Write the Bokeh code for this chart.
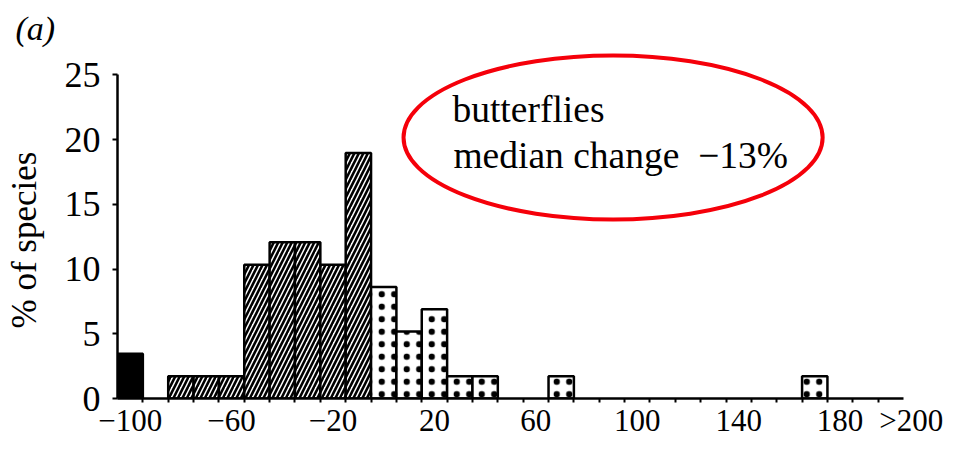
from bokeh.plotting import figure
from bokeh.models import Range1d, FixedTicker, Label
from bokeh.embed import file_html
from bokeh.resources import INLINE

# ---- data ----
black_x = [-100]
black_pct = [3.45]
hatched_x = [-80, -70, -60, -50, -40, -30, -20, -10]
hatched_pct = [1.72, 1.72, 1.72, 10.34, 12.07, 12.07, 10.34, 18.97]
dotted_x = [0, 10, 20, 30, 40, 70, 170]
dotted_pct = [8.62, 5.17, 6.90, 1.72, 1.72, 1.72, 1.72]

x_tick_values = [-100, -60, -20, 20, 60, 100, 140, 180, 205]
x_tick_labels = ["\u2212100", "\u221260", "\u221220", "20", "60", "100", "140", "180",
                 "\u00a0\u00a0>200"]
bin_edges = list(range(-95, 200, 10))
y_ticks = [0, 5, 10, 15, 20, 25]

FONT = "Liberation Serif"

p = figure(width=951, height=444, output_backend="svg", toolbar_location=None,
           x_range=Range1d(-105, 205), y_range=Range1d(0, 27.2),
           min_border_left=117, min_border_right=48, min_border_top=46,
           min_border_bottom=46)
p.outline_line_color = None
p.grid.visible = False
p.background_fill_color = "white"

# panel letter as the title
p.title.text = "(a)"
p.title.text_font = FONT
p.title.text_font_style = "italic"
p.title.text_font_size = "34px"
p.title.text_color = "black"
p.title.align = "left"
p.title.offset = -102
p.title.standoff = 0

bar_line = dict(line_color="black", line_width=2.5)
p.vbar(x=black_x, top=black_pct, width=10, bottom=0, fill_color="black", **bar_line)
p.vbar(x=hatched_x, top=hatched_pct, width=10, bottom=0, fill_color="white",
       hatch_pattern="/", hatch_color="black", hatch_scale=9, hatch_weight=2.6, **bar_line)
p.vbar(x=dotted_x, top=dotted_pct, width=10, bottom=0, fill_color="white",
       hatch_pattern="dot", hatch_color="black", hatch_scale=12.5, hatch_weight=2.2, **bar_line)

# red ellipse round the annotation
p.ellipse(x=90.46, y=20.17, width=165.3, height=12.67, fill_color=None,
          line_color="#f5000a", line_width=4)

# x axis
xa = p.xaxis[0]
xa.ticker = FixedTicker(ticks=x_tick_values, minor_ticks=bin_edges)
xa.major_label_overrides = dict(zip(x_tick_values, x_tick_labels))
xa.major_tick_line_color = None
xa.major_tick_out = 0
xa.major_tick_in = 0
xa.minor_tick_out = 4
xa.minor_tick_in = 0
xa.minor_tick_line_width = 2
xa.axis_line_width = 2.5
xa.major_label_text_font = FONT
xa.major_label_text_font_size = "31px"
xa.major_label_text_color = "black"
xa.major_label_standoff = 0

# y axis
ya = p.yaxis[0]
ya.ticker = FixedTicker(ticks=y_ticks)
ya.bounds = (0, 25)
ya.major_tick_out = 5
ya.major_tick_in = 0
ya.major_tick_line_width = 2
ya.minor_tick_line_color = None
ya.axis_line_width = 2.5
ya.major_label_text_font = FONT
ya.major_label_text_font_size = "36px"
ya.major_label_text_color = "black"
ya.major_label_standoff = 12
ya.axis_label = "% of species\u00a0\u00a0\u00a0\u00a0"
ya.axis_label_text_font = FONT
ya.axis_label_text_font_style = "normal"
ya.axis_label_text_font_size = "35px"
ya.axis_label_text_color = "black"
ya.axis_label_standoff = 18

# annotation text
p.add_layout(Label(x=27.1, y=22.3, text="butterflies", text_font=FONT,
                   text_font_size="37.5px", text_color="black", text_baseline="alphabetic"))
p.add_layout(Label(x=27.5, y=18.75, text="median change\u00a0\u00a0\u221213%", text_font=FONT,
                   text_font_size="37.5px", text_color="black", text_baseline="alphabetic"))

open("out.html", "w").write(file_html(p, INLINE))
